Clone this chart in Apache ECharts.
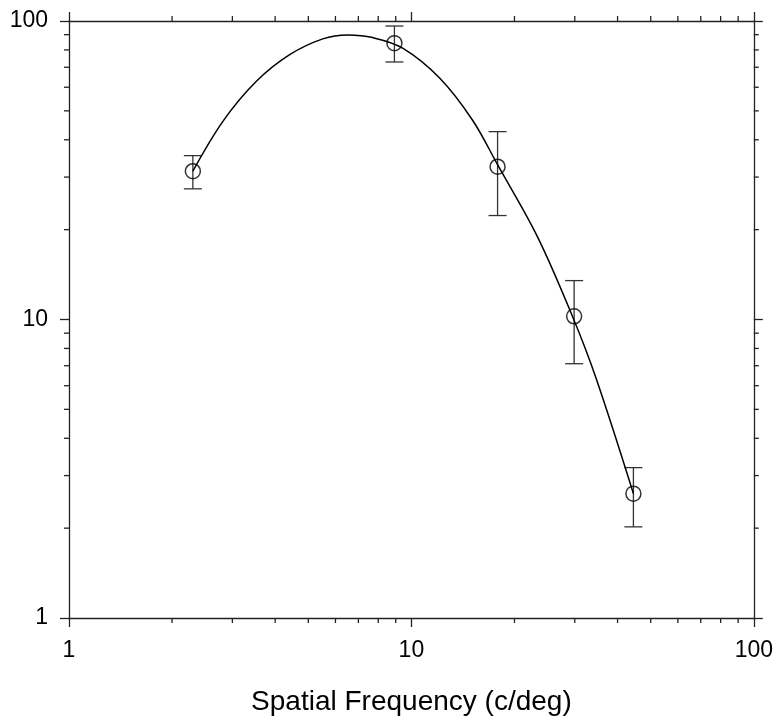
<!DOCTYPE html>
<html>
<head>
<meta charset="utf-8">
<script src="https://cdn.jsdelivr.net/npm/echarts@6/dist/echarts.min.js"></script>
<style>
html,body{margin:0;padding:0;background:#fff;}
#chart{width:776px;height:721px;}
</style>
</head>
<body>
<div id="chart"></div>
<script>
// Measured points
var freq = [2.30, 8.92, 17.85, 29.87, 44.5];
var sens = [31.4, 84.3, 32.5, 10.25, 2.61];
var errHigh = [35.4, 96.2, 42.6, 13.5, 3.19];
var errLow = [27.4, 72.9, 22.3, 7.11, 2.02];

// Fitted curve
var curveX = [2.30, 2.818, 3.526, 4.41, 5.51, 6.52, 7.71, 9.43, 12.07, 15.09, 17.85, 23.35, 29.53, 34.56, 44.5];
var curveY = [31.4, 46.2, 62.8, 77.1, 87.1, 89.8, 88.0, 81.1, 64.5, 46.5, 33.0, 18.92, 10.25, 6.39, 2.61];

// Axis ticks
var xMajor = [1, 10, 100];
var yMajor = [1, 10, 100];
var minorTicks = [2, 3, 4, 5, 6, 7, 8, 9, 20, 30, 40, 50, 60, 70, 80, 90];
var xTitle = 'Spatial Frequency (c/deg)';

var FONT = 'Liberation Sans, Arial, sans-serif';
var AX = '#222';

var chart = echarts.init(document.getElementById('chart'), null, {renderer: 'canvas'});

function baseAxis(extra) {
  var a = {
    type: 'log', logBase: 10, min: 1, max: 100,
    splitLine: {show: false},
    axisLine: {show: true, lineStyle: {color: AX, width: 1.3}},
    axisTick: {show: true, inside: false, length: 9, lineStyle: {color: AX, width: 1.3}},
    minorTick: {show: false},
    axisLabel: {show: false}
  };
  for (var k in extra) a[k] = extra[k];
  return a;
}

var option = {
  animation: false,
  backgroundColor: '#fff',
  grid: {left: 69, right: 21, top: 21, bottom: 99, containLabel: false},
  xAxis: [
    baseAxis({
      position: 'bottom',
      axisLabel: {show: true, margin: 21, fontSize: 23, color: '#000', fontFamily: FONT,
        formatter: function (v) { return String(Math.round(v)); }},
      name: xTitle, nameLocation: 'middle', nameGap: 70,
      nameTextStyle: {fontSize: 28, color: '#000', fontFamily: FONT}
    }),
    baseAxis({position: 'top'})
  ],
  yAxis: [
    baseAxis({
      position: 'left',
      axisLabel: {show: true, margin: 21, fontSize: 23, color: '#000', fontFamily: FONT,
        formatter: function (v) { return String(Math.round(v)); }}
    }),
    baseAxis({position: 'right'})
  ],
  series: [
    {
      type: 'custom', name: 'xminor', clip: false, silent: true,
      data: minorTicks.map(function (v) { return [v, 1]; }),
      encode: {x: 0, y: 1},
      renderItem: function (params, api) {
        var xv = api.value(0);
        var b = api.coord([xv, 1]);
        var t = api.coord([xv, 100]);
        var st = {stroke: AX, lineWidth: 1.3};
        return {type: 'group', children: [
          {type: 'line', shape: {x1: b[0], y1: b[1], x2: b[0], y2: b[1] + 5}, style: st},
          {type: 'line', shape: {x1: t[0], y1: t[1], x2: t[0], y2: t[1] - 5}, style: st}
        ]};
      }
    },
    {
      type: 'custom', name: 'yminor', clip: false, silent: true,
      data: minorTicks.map(function (v) { return [1, v]; }),
      encode: {x: 0, y: 1},
      renderItem: function (params, api) {
        var yv = api.value(1);
        var l = api.coord([1, yv]);
        var r = api.coord([100, yv]);
        var st = {stroke: AX, lineWidth: 1.3};
        return {type: 'group', children: [
          {type: 'line', shape: {x1: l[0], y1: l[1], x2: l[0] - 5, y2: l[1]}, style: st},
          {type: 'line', shape: {x1: r[0], y1: r[1], x2: r[0] + 5, y2: r[1]}, style: st}
        ]};
      }
    },
    {
      type: 'line', name: 'fit', smooth: 0.35, symbol: 'none',
      data: curveX.map(function (x, i) { return [x, curveY[i]]; }),
      lineStyle: {color: '#000', width: 1.5}
    },
    {
      type: 'custom', name: 'err', clip: false,
      data: freq.map(function (x, i) { return [x, errLow[i], errHigh[i]]; }),
      encode: {x: 0, y: [1, 2]},
      renderItem: function (params, api) {
        var x = api.value(0);
        var lo = api.coord([x, api.value(1)]);
        var hi = api.coord([x, api.value(2)]);
        var st = {stroke: '#333', lineWidth: 1.3};
        var w = 9;
        return {type: 'group', children: [
          {type: 'line', shape: {x1: lo[0], y1: lo[1], x2: hi[0], y2: hi[1]}, style: st},
          {type: 'line', shape: {x1: lo[0] - w, y1: lo[1], x2: lo[0] + w, y2: lo[1]}, style: st},
          {type: 'line', shape: {x1: hi[0] - w, y1: hi[1], x2: hi[0] + w, y2: hi[1]}, style: st}
        ]};
      }
    },
    {
      type: 'scatter', name: 'data', symbol: 'circle', symbolSize: 15,
      data: freq.map(function (x, i) { return [x, sens[i]]; }),
      itemStyle: {color: 'rgba(0,0,0,0)', borderColor: '#000', borderWidth: 1.5},
      z: 5
    }
  ]
};
chart.setOption(option);
</script>
</body>
</html>
